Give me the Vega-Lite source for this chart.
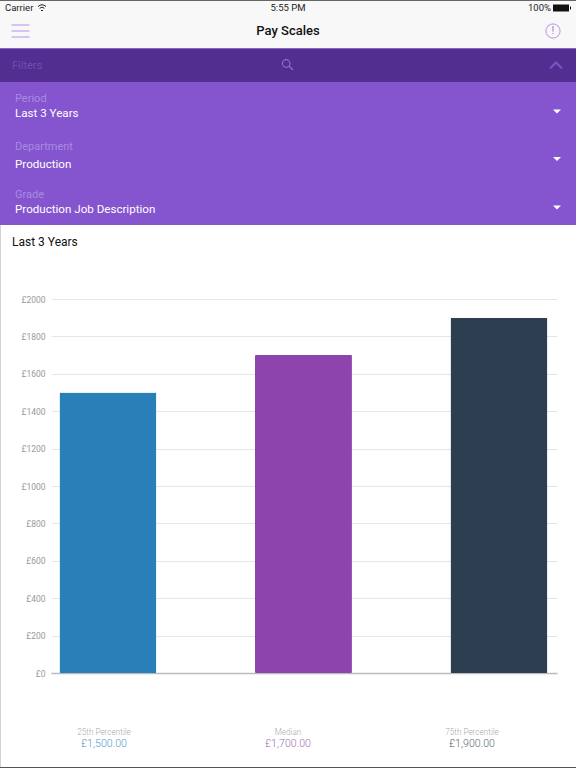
{
  "$schema": "https://vega.github.io/schema/vega-lite/v6.json",
  "padding": 0,
  "spacing": 0,
  "bounds": "flush",
  "background": "#ffffff",
  "config": {
    "view": {"stroke": null},
    "concat": {"spacing": 0},
    "text": {"font": "Roboto"},
    "axis": {"labelFont": "Roboto"}
  },
  "resolve": {"scale": {"x": "independent", "y": "independent", "color": "independent", "size": "independent"}},
  "datasets": {
    "pay": [
      {"label": "25th Percentile", "value": 1500, "amount": "£1,500.00"},
      {"label": "Median", "value": 1700, "amount": "£1,700.00"},
      {"label": "75th Percentile", "value": 1900, "amount": "£1,900.00"}
    ]
  },
  "vconcat": [
    {
      "width": 576,
      "height": 1,
      "view": {"fill": "#666666"},
      "data": {"values": []},
      "mark": "text"
    },
    {
      "width": 576,
      "height": 14,
      "view": {"fill": "#f8f8f8"},
      "encoding": {
        "x": {"field": "slot", "type": "nominal", "axis": null, "scale": {"domain": ["left", "mid", "right"], "range": [5, 571], "padding": 0}}
      },
      "layer": [
        {
          "data": {"values": [{"slot": "left", "text": "Carrier"}]},
          "mark": {"type": "text", "align": "left", "fontSize": 9.5, "color": "#222222"},
          "encoding": {"text": {"field": "text"}}
        },
        {
          "data": {"values": [{"slot": "mid", "text": "5:55 PM"}]},
          "mark": {"type": "text", "align": "center", "fontSize": 9.5, "color": "#222222"},
          "encoding": {"text": {"field": "text"}}
        },
        {
          "data": {"values": [{"slot": "right", "text": "100%"}]},
          "mark": {"type": "text", "align": "right", "dx": -20, "fontSize": 9.5, "color": "#222222"},
          "encoding": {"text": {"field": "text"}}
        },
        {
          "data": {"values": [{"slot": "left"}]},
          "mark": {"type": "point", "filled": false, "size": 4, "stroke": "#222222", "strokeWidth": 1, "opacity": 1,
            "shape": "M33,-1.5Q37,-5 41,-1.5M34.6,0.3Q37,-2 39.4,0.3M36,2L37,3L38,2"}
        },
        {
          "data": {"values": [{"slot": "right"}]},
          "mark": {"type": "point", "filled": true, "size": 4, "fill": "#111111", "opacity": 1,
            "shape": "M-18,-3.5H-2V3.5H-18ZM-1,-1.5H0V1.5H-1Z"}
        }
      ]
    },
    {
      "width": 576,
      "height": 32,
      "view": {"fill": "#f8f8f8"},
      "encoding": {
        "x": {"field": "slot", "type": "nominal", "axis": null, "scale": {"domain": ["menu", "name", "info"], "range": [20.5, 553], "padding": 0}}
      },
      "layer": [
        {
          "data": {"values": [{"slot": "menu"}]},
          "mark": {"type": "point", "filled": false, "size": 4, "stroke": "#b892e6", "strokeWidth": 1, "opacity": 1,
            "shape": "M-9,-6H9M-9,0H9M-9,6H9"}
        },
        {
          "data": {"values": [{"slot": "name", "text": "Pay Scales"}]},
          "mark": {"type": "text", "align": "center", "dx": 1.25, "fontSize": 13, "fontWeight": 500, "color": "#111111"},
          "encoding": {"text": {"field": "text"}}
        },
        {
          "data": {"values": [{"slot": "info"}]},
          "mark": {"type": "point", "filled": false, "size": 201, "shape": "circle", "stroke": "#b892e6", "strokeWidth": 1, "opacity": 1}
        },
        {
          "data": {"values": [{"slot": "info", "text": "!"}]},
          "mark": {"type": "text", "align": "center", "fontSize": 11, "color": "#a47fdc"},
          "encoding": {"text": {"field": "text"}}
        }
      ]
    },
    {
      "width": 576,
      "height": 1,
      "view": {"fill": "#f8f8f8"},
      "data": {"values": []},
      "mark": "text"
    },
    {
      "width": 576,
      "height": 1,
      "view": {"fill": "#8a62c8"},
      "data": {"values": []},
      "mark": "text"
    },
    {
      "width": 576,
      "height": 33,
      "view": {"fill": "#512e8f"},
      "encoding": {
        "x": {"field": "slot", "type": "nominal", "axis": null, "scale": {"domain": ["text", "search", "toggle"], "range": [19, 556], "padding": 0}}
      },
      "layer": [
        {
          "data": {"values": [{"slot": "text", "text": "Filters"}]},
          "mark": {"type": "text", "align": "left", "dx": -7, "fontSize": 11, "color": "#744db5"},
          "encoding": {"text": {"field": "text"}}
        },
        {
          "data": {"values": [{"slot": "search"}]},
          "mark": {"type": "point", "filled": false, "size": 4, "stroke": "#8e6fc9", "strokeWidth": 1.2, "opacity": 1,
            "shape": "M1.5,0.5L5.5,4.5M2.5,-2A3.8,3.8 0 1 1 -5.1,-2A3.8,3.8 0 1 1 2.5,-2"}
        },
        {
          "data": {"values": [{"slot": "toggle"}]},
          "mark": {"type": "point", "filled": false, "size": 4, "stroke": "#7d53c8", "strokeWidth": 2, "opacity": 1,
            "shape": "M-6,3L0,-3L6,3"}
        }
      ]
    },
    {
      "width": 576,
      "height": 45,
      "view": {"fill": "#8455cf"},
      "encoding": {
        "x": {"field": "slot", "type": "nominal", "axis": null, "scale": {"domain": ["text", "arrow"], "range": [15, 557], "padding": 0}}
      },
      "layer": [
        {
          "data": {"values": [
            {"slot": "text", "row": "label", "text": "Period"},
            {"slot": "text", "row": "value", "text": "Last 3 Years"}
          ]},
          "mark": {"type": "text", "align": "left"},
          "encoding": {
            "y": {"field": "row", "type": "nominal", "axis": null, "scale": {"domain": ["label", "value"], "range": [17, 32], "padding": 0}},
            "text": {"field": "text"},
            "size": {"field": "row", "type": "nominal", "legend": null, "scale": {"domain": ["label", "value"], "range": [11, 11.6]}},
            "color": {"field": "row", "type": "nominal", "legend": null, "scale": {"domain": ["label", "value"], "range": ["#a98ae0", "#ffffff"]}}
          }
        },
        {
          "data": {"values": [{"slot": "arrow", "row": "value"}]},
          "mark": {"type": "point", "filled": true, "size": 4, "fill": "#ffffff", "opacity": 1, "shape": "M-4,-4.5H4L0,-0.5Z"},
          "encoding": {
            "y": {"field": "row", "type": "nominal", "axis": null}
          }
        }
      ]
    },
    {
      "width": 576,
      "height": 50,
      "view": {"fill": "#8455cf"},
      "encoding": {
        "x": {"field": "slot", "type": "nominal", "axis": null, "scale": {"domain": ["text", "arrow"], "range": [15, 557], "padding": 0}}
      },
      "layer": [
        {
          "data": {"values": [
            {"slot": "text", "row": "label", "text": "Department"},
            {"slot": "text", "row": "value", "text": "Production"}
          ]},
          "mark": {"type": "text", "align": "left"},
          "encoding": {
            "y": {"field": "row", "type": "nominal", "axis": null, "scale": {"domain": ["label", "value"], "range": [20, 38], "padding": 0}},
            "text": {"field": "text"},
            "size": {"field": "row", "type": "nominal", "legend": null, "scale": {"domain": ["label", "value"], "range": [11, 11.6]}},
            "color": {"field": "row", "type": "nominal", "legend": null, "scale": {"domain": ["label", "value"], "range": ["#a98ae0", "#ffffff"]}}
          }
        },
        {
          "data": {"values": [{"slot": "arrow", "row": "value"}]},
          "mark": {"type": "point", "filled": true, "size": 4, "fill": "#ffffff", "opacity": 1, "shape": "M-4,-8H4L0,-4Z"},
          "encoding": {
            "y": {"field": "row", "type": "nominal", "axis": null}
          }
        }
      ]
    },
    {
      "width": 576,
      "height": 48,
      "view": {"fill": "#8455cf"},
      "encoding": {
        "x": {"field": "slot", "type": "nominal", "axis": null, "scale": {"domain": ["text", "arrow"], "range": [15, 557], "padding": 0}}
      },
      "layer": [
        {
          "data": {"values": [
            {"slot": "text", "row": "label", "text": "Grade"},
            {"slot": "text", "row": "value", "text": "Production Job Description"}
          ]},
          "mark": {"type": "text", "align": "left"},
          "encoding": {
            "y": {"field": "row", "type": "nominal", "axis": null, "scale": {"domain": ["label", "value"], "range": [18, 33], "padding": 0}},
            "text": {"field": "text"},
            "size": {"field": "row", "type": "nominal", "legend": null, "scale": {"domain": ["label", "value"], "range": [11, 11.6]}},
            "color": {"field": "row", "type": "nominal", "legend": null, "scale": {"domain": ["label", "value"], "range": ["#a98ae0", "#ffffff"]}}
          }
        },
        {
          "data": {"values": [{"slot": "arrow", "row": "value"}]},
          "mark": {"type": "point", "filled": true, "size": 4, "fill": "#ffffff", "opacity": 1, "shape": "M-4,-4.5H4L0,-0.5Z"},
          "encoding": {
            "y": {"field": "row", "type": "nominal", "axis": null}
          }
        }
      ]
    },
    {
      "hconcat": [
        {
          "width": 1,
          "height": 542,
          "view": {"fill": "#d2d2d2"},
          "data": {"values": []},
          "mark": "text"
        }
      ],
      "bounds": "flush",
      "spacing": 0
    },
    {
      "width": 576,
      "height": 74,
      "data": {"values": [{"slot": "text", "row": "heading", "text": "Last 3 Years"}]},
      "mark": {"type": "text", "align": "left", "fontSize": 12, "color": "#111111"},
      "encoding": {
        "x": {"field": "slot", "type": "nominal", "axis": null, "scale": {"domain": ["text", "end"], "range": [12, 576], "padding": 0}},
        "y": {"field": "row", "type": "nominal", "axis": null, "scale": {"domain": ["heading", "rest"], "range": [17, 74], "padding": 0}},
        "text": {"field": "text"}
      }
    },
    {
      "bounds": "flush",
      "spacing": 0,
      "resolve": {"scale": {"x": "independent", "y": "independent", "color": "independent"}},
      "hconcat": [
        {
          "width": 51,
          "height": 374,
          "data": {"values": []},
          "mark": "text"
        },
        {
          "width": 506,
          "height": 374,
          "data": {"name": "pay"},
          "mark": {"type": "bar", "cornerRadius": 1},
          "encoding": {
            "x": {
              "field": "label",
              "type": "nominal",
              "sort": null,
              "title": null,
              "scale": {"paddingInner": 0.504, "paddingOuter": 0.046, "align": 0.47},
              "axis": {"labels": false, "ticks": false, "domainColor": "#bbbbbb", "domainWidth": 1.5}
            },
            "y": {
              "field": "value",
              "type": "quantitative",
              "title": null,
              "scale": {"domain": [0, 2000], "nice": false},
              "axis": {
                "values": [0, 200, 400, 600, 800, 1000, 1200, 1400, 1600, 1800, 2000],
                "labelExpr": "'£' + datum.value",
                "labelFontSize": 8.5,
                "labelColor": "#999999",
                "labelPadding": 6,
                "ticks": false,
                "domain": false,
                "gridColor": "#e6e6e6"
              }
            },
            "color": {
              "field": "label",
              "type": "nominal",
              "legend": null,
              "scale": {"domain": ["25th Percentile", "Median", "75th Percentile"], "range": ["#2980b9", "#8e44ad", "#2c3e50"]}
            }
          }
        }
      ]
    },
    {
      "width": 576,
      "height": 374,
      "data": {"values": []},
      "mark": "text"
    },
    {
      "width": 576,
      "height": 94,
      "data": {"name": "pay"},
      "encoding": {
        "x": {"field": "label", "type": "nominal", "sort": null, "axis": null, "scale": {"range": [104, 472], "padding": 0}},
        "y": {"datum": "caption", "type": "nominal", "axis": null, "scale": {"domain": ["caption", "amount"], "range": [60, 70.5], "padding": 0}}
      },
      "layer": [
        {
          "mark": {"type": "text", "align": "center", "fontSize": 8.2, "fontWeight": 300, "color": "#aaaaaa"},
          "encoding": {"text": {"field": "label"}}
        },
        {
          "mark": {"type": "text", "align": "center", "fontSize": 10.6, "fontWeight": 300, "opacity": 0.8},
          "encoding": {
            "text": {"field": "amount"},
            "y": {"datum": "amount", "type": "nominal", "axis": null},
            "color": {
              "field": "label",
              "type": "nominal",
              "legend": null,
              "scale": {"domain": ["25th Percentile", "Median", "75th Percentile"], "range": ["#2980b9", "#8e44ad", "#2c3e50"]}
            }
          }
        }
      ]
    },
    {
      "width": 576,
      "height": 1,
      "view": {"fill": "#555555"},
      "data": {"values": []},
      "mark": "text"
    }
  ]
}
